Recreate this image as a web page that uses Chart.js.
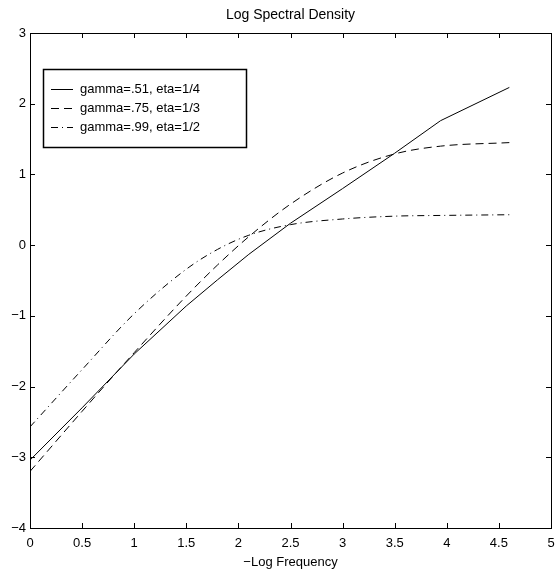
<!DOCTYPE html>
<html>
<head>
<meta charset="utf-8">
<script src="https://cdn.jsdelivr.net/npm/chart.js@4.4.0/dist/chart.umd.min.js"></script>
<style>
  body { margin: 0; background: #fff; }
  #wrap { width: 556px; height: 571px; }
</style>
</head>
<body>
<div id="wrap"><canvas id="chart" width="556" height="571"></canvas></div>
<script>
// -log frequency grid
const logFreq = [0, 0.5, 1, 1.5, 1.8, 2.1, 2.5, 3, 3.5, 3.94, 4.6];

// log spectral density for each parameter pair
const gamma51 = [-3.04, -2.30, -1.54, -0.86, -0.49, -0.13, 0.31, 0.80, 1.30, 1.76, 2.23];
const gamma75 = [-3.20, -2.35, -1.52, -0.72, -0.28, 0.12, 0.58, 1.02, 1.29, 1.40, 1.45];
const gamma99 = [-2.57, -1.76, -0.97, -0.34, -0.06, 0.14, 0.29, 0.37, 0.41, 0.42, 0.43];

const seriesLabels = ['gamma=.51, eta=1/4', 'gamma=.75, eta=1/3', 'gamma=.99, eta=1/2'];
const seriesDash = [[], [8, 5], [7, 4, 1, 4]];
const chartTitle = 'Log Spectral Density';

const FONT = "'Liberation Sans', Arial, Helvetica, sans-serif";
Chart.defaults.font.family = FONT;
Chart.defaults.font.size = 13;
Chart.defaults.color = '#000';

const toPoints = ys => ys.map((y, i) => ({ x: logFreq[i], y: y }));
const minus = v => String(v).replace('-', '\u2212');

// MATLAB style box, inward ticks, title over the axes and boxed legend
const matlabBox = {
  id: 'matlabBox',
  afterDraw(chart) {
    const { ctx, chartArea: a, scales } = chart;
    ctx.save();
    ctx.strokeStyle = '#000';
    ctx.lineWidth = 1;
    ctx.setLineDash([]);
    ctx.strokeRect(a.left + 0.5, a.top + 0.5, a.right - a.left, a.bottom - a.top);

    const len = 5;
    ctx.beginPath();
    scales.x.ticks.forEach(t => {
      const px = Math.round(scales.x.getPixelForValue(t.value)) + 0.5;
      ctx.moveTo(px, a.bottom); ctx.lineTo(px, a.bottom - len);
      ctx.moveTo(px, a.top); ctx.lineTo(px, a.top + len);
    });
    scales.y.ticks.forEach(t => {
      const py = Math.round(scales.y.getPixelForValue(t.value)) + 0.5;
      ctx.moveTo(a.left, py); ctx.lineTo(a.left + len, py);
      ctx.moveTo(a.right, py); ctx.lineTo(a.right - len, py);
    });
    ctx.stroke();

    // title centred on the axes
    ctx.fillStyle = '#000';
    ctx.font = '14px ' + FONT;
    ctx.textAlign = 'center';
    ctx.textBaseline = 'middle';
    ctx.fillText(chartTitle, (a.left + a.right) / 2, 15);

    // legend
    const lx = 43, ly = 69, lw = 203, lh = 78;
    ctx.fillStyle = '#fff';
    ctx.fillRect(lx, ly, lw, lh);
    ctx.lineWidth = 1.5;
    ctx.strokeRect(lx + 0.5, ly + 0.5, lw, lh);
    ctx.lineWidth = 1;
    ctx.font = '13px ' + FONT;
    ctx.textAlign = 'left';
    ctx.fillStyle = '#000';
    seriesLabels.forEach((lab, i) => {
      const y = 89.5 + i * 19;
      ctx.setLineDash(seriesDash[i]);
      ctx.beginPath();
      ctx.moveTo(51, y); ctx.lineTo(73, y);
      ctx.stroke();
      ctx.setLineDash([]);
      ctx.fillText(lab, 80, y);
    });
    ctx.restore();
  }
};

new Chart(document.getElementById('chart'), {
  type: 'line',
  data: {
    datasets: [gamma51, gamma75, gamma99].map((ys, i) => ({
      label: seriesLabels[i],
      data: toPoints(ys),
      borderColor: '#000',
      borderWidth: 1,
      borderDash: seriesDash[i],
      pointRadius: 0,
      tension: 0,
      cubicInterpolationMode: i === 0 ? 'default' : 'monotone',
      fill: false
    }))
  },
  options: {
    responsive: false,
    animation: false,
    devicePixelRatio: 1,
    layout: { padding: { left: 0, right: 5, top: 33, bottom: 0 } },
    plugins: {
      legend: { display: false },
      tooltip: { enabled: false },
      title: { display: false }
    },
    scales: {
      x: {
        type: 'linear',
        min: 0,
        max: 5,
        ticks: { stepSize: 0.5, padding: 8, maxRotation: 0, autoSkip: false, callback: v => minus(v) },
        grid: { display: false, drawTicks: false },
        border: { display: false },
        title: { display: true, text: '\u2212Log Frequency', font: { size: 13 }, padding: { top: 0, bottom: 1 } },
        afterFit: s => { s.height = 43; s.paddingLeft = 0; s.paddingRight = 0; }
      },
      y: {
        min: -4,
        max: 3,
        ticks: { stepSize: 1, padding: 4, callback: v => minus(v) },
        grid: { display: false, drawTicks: false },
        border: { display: false },
        afterFit: s => { s.width = 30; s.paddingTop = 0; s.paddingBottom = 0; }
      }
    }
  },
  plugins: [matlabBox]
});
</script>
</body>
</html>
